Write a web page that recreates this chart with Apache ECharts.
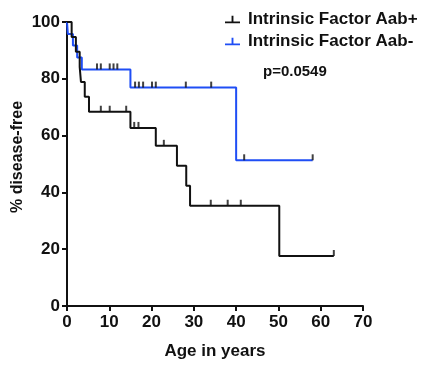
<!DOCTYPE html>
<html>
<head>
<meta charset="utf-8">
<script src="https://cdn.jsdelivr.net/npm/echarts@6/dist/echarts.min.js"></script>
<style>
  html, body { margin: 0; padding: 0; background: #fff; }
  #chart { width: 421px; height: 365px; }
</style>
</head>
<body>
<div id="chart"></div>
<script>
// Kaplan-Meier steps
const posTimes = [0, 1.1, 2.1, 3.0, 3.3, 4.2, 5.2, 15, 21, 26, 28.2, 29.1, 50.2, 63.1];
const posSurv = [100, 94.7, 89.5, 84.2, 78.9, 73.7, 68.4, 62.7, 56.4, 49.4, 42.3, 35.3, 17.6, 17.6];
const posCensorT = [8.0, 10.1, 14.0, 15.9, 16.9, 22.9, 34.0, 38.0, 41.1, 63.1];
const posCensorS = [68.4, 68.4, 68.4, 62.7, 62.7, 56.4, 35.3, 35.3, 35.3, 17.6];

const negTimes = [0, 0.2, 1.4, 2.4, 3.5, 15, 40, 58.1];
const negSurv = [100, 95.8, 91.7, 87.5, 83.3, 76.9, 51.3, 51.3];
const negCensorT = [7.1, 8.0, 10.1, 11.0, 11.9, 16.1, 17.0, 18.0, 20.1, 21.0, 28.1, 34.1, 41.9, 58.1];
const negCensorS = [83.3, 83.3, 83.3, 83.3, 83.3, 76.9, 76.9, 76.9, 76.9, 76.9, 76.9, 76.9, 51.3, 51.3];

const xTicks = [0, 10, 20, 30, 40, 50, 60, 70];
const yTicks = [0, 20, 40, 60, 80, 100];

const seriesNames = ['Intrinsic Factor Aab+', 'Intrinsic Factor Aab-'];
const pValue = 'p=0.0549';
const yTitle = '% disease-free';

const font = '"Liberation Sans", Arial, sans-serif';
const black = '#111';
const blue = '#1f4ef5';
const tickIcon = 'path://M0,6 L16,6 L16,8 L0,8 Z M7,0 L9,0 L9,6 L7,6 Z';

const zip = (a, b) => a.map((v, i) => [v, b[i]]);

const chart = echarts.init(document.getElementById('chart'), null, { renderer: 'canvas' });

chart.setOption({
  animation: false,
  backgroundColor: '#fff',
  textStyle: { fontFamily: font },
  grid: { left: 67, top: 22, width: 296, height: 285 },
  legend: {
    data: seriesNames.map((n) => ({ name: n, icon: tickIcon })),
    orient: 'vertical',
    left: 220,
    top: 6,
    itemWidth: 15,
    itemHeight: 8,
    itemGap: 5,
    textStyle: { fontFamily: font, fontWeight: 'bold', fontSize: 17, color: black, padding: [0, 0, 0, 3] },
  },
  xAxis: {
    type: 'value',
    min: 0,
    max: 70,
    interval: 10,
    name: 'Age in years',
    nameLocation: 'middle',
    nameGap: 37,
    nameTextStyle: { fontFamily: font, fontWeight: 'bold', fontSize: 17, color: black },
    axisLine: { lineStyle: { color: black, width: 2 } },
    axisTick: { show: true, inside: false, length: 5, lineStyle: { color: black, width: 2 } },
    axisLabel: {
      fontFamily: font, fontWeight: 'bold', fontSize: 17, color: black, margin: 8,
      formatter: (v) => (xTicks.includes(v) ? String(v) : ''),
    },
    splitLine: { show: false },
  },
  yAxis: {
    type: 'value',
    min: 0,
    max: 100,
    interval: 20,
    axisLine: { show: true, lineStyle: { color: black, width: 2 } },
    axisTick: { show: true, inside: false, length: 5, lineStyle: { color: black, width: 2 } },
    axisLabel: {
      fontFamily: font, fontWeight: 'bold', fontSize: 17, color: black, margin: 7,
      formatter: (v) => (yTicks.includes(v) ? String(v) : ''),
    },
    splitLine: { show: false },
  },
  graphic: [
    {
      type: 'text',
      left: 263,
      top: 64,
      style: { text: pValue, fontFamily: font, fontWeight: 'bold', fontSize: 15, fill: black },
    },
    {
      type: 'text',
      x: 18,
      y: 157,
      rotation: Math.PI / 2,
      style: {
        text: yTitle, fontFamily: font, fontWeight: 'bold', fontSize: 16, fill: black,
        align: 'center', verticalAlign: 'middle',
      },
    },
  ],
  series: [
    {
      name: seriesNames[0],
      type: 'line',
      step: 'end',
      data: zip(posTimes, posSurv),
      showSymbol: false,
      lineStyle: { color: black, width: 2 },
      itemStyle: { color: black },
      z: 3,
    },
    {
      name: seriesNames[1],
      type: 'line',
      step: 'end',
      data: zip(negTimes, negSurv),
      showSymbol: false,
      lineStyle: { color: blue, width: 2 },
      itemStyle: { color: blue },
      z: 2,
    },
    {
      name: 'censor+',
      type: 'scatter',
      data: zip(posCensorT, posCensorS),
      symbol: 'rect',
      symbolSize: [2, 6],
      symbolOffset: [0, -3],
      itemStyle: { color: black },
      z: 4,
    },
    {
      name: 'censor-',
      type: 'scatter',
      data: zip(negCensorT, negCensorS),
      symbol: 'rect',
      symbolSize: [2, 6],
      symbolOffset: [0, -3],
      itemStyle: { color: black },
      z: 4,
    },
  ],
});
</script>
</body>
</html>
